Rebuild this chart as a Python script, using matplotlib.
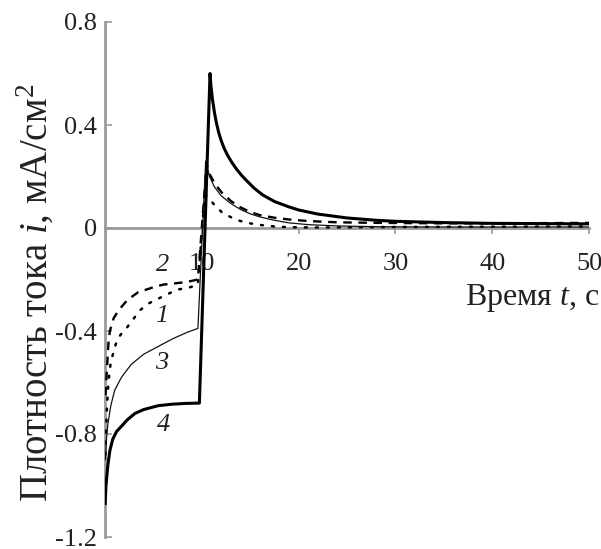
import matplotlib
matplotlib.use("Agg")
import matplotlib.pyplot as plt

plt.rcParams['font.family'] = ['Liberation Serif', 'DejaVu Serif']
plt.rcParams['mathtext.fontset'] = 'custom'
plt.rcParams['mathtext.rm'] = 'Liberation Serif'
plt.rcParams['mathtext.it'] = 'Liberation Serif:italic'

# кривая 1 (точки)
t1 = [0.05, 0.1, 0.2, 0.35, 0.6, 1.2, 1.6, 2.3, 2.9, 3.6, 4.4, 5.2, 6.3, 7.4, 8.8, 9.6,
      10.3, 10.6, 11.3, 12.1, 13.1, 14.0, 15.0, 16.0, 17.5, 19.0, 22.0, 30.0, 40.0, 50.0]
i1 = [-0.88, -0.8, -0.7, -0.6, -0.52, -0.44, -0.415, -0.385, -0.355, -0.32, -0.295, -0.28, -0.26, -0.24, -0.23, -0.22,
      0.13, 0.12, 0.09, 0.06, 0.04, 0.027, 0.018, 0.012, 0.006, 0.003, 0.002, 0.004, 0.005, 0.006]

# кривая 2 (штрих)
t2 = [0.05, 0.2, 0.35, 0.5, 0.9, 1.4, 2.3, 3.4, 5.0, 6.0, 8.4, 9.6,
      10.5, 10.8, 11.3, 12.0, 13.0, 14.0, 15.0, 16.0, 17.5, 19.0, 21.0, 24.0, 28.0, 35.0, 42.0, 50.0]
i2 = [-0.65, -0.55, -0.45, -0.4, -0.35, -0.32, -0.28, -0.25, -0.23, -0.22, -0.21, -0.2,
      0.25, 0.21, 0.175, 0.14, 0.105, 0.08, 0.062, 0.05, 0.04, 0.033, 0.027, 0.022, 0.02, 0.018, 0.018, 0.02]

# кривая 3 (тонкая)
t3 = [0.05, 0.15, 0.3, 0.6, 1.0, 1.7, 2.7, 4.0, 5.5, 7.0, 8.5, 9.6,
      10.4, 10.8, 11.3, 12.0, 13.0, 14.0, 15.0, 16.0, 17.5, 19.0, 21.0, 24.0, 28.0, 35.0, 50.0]
i3 = [-0.9, -0.82, -0.76, -0.69, -0.63, -0.58, -0.53, -0.49, -0.46, -0.43, -0.405, -0.39,
      0.26, 0.2, 0.16, 0.125, 0.095, 0.072, 0.055, 0.043, 0.03, 0.02, 0.013, 0.008, 0.005, 0.004, 0.004]

# кривая 4 (жирная)
t4 = [0.02, 0.1, 0.3, 0.5, 0.8, 1.2, 1.7, 2.3, 3.1, 4.0, 5.5, 7.0, 8.5, 9.75,
      10.85, 10.95, 11.1, 11.3, 11.5, 11.75, 12.0, 12.3, 12.7, 13.1, 13.6, 14.1, 14.6, 15.4, 16.3, 17.5, 19.0,
      20.0, 22.0, 25.0, 28.0, 30.0, 35.0, 40.0, 45.0, 50.0]
i4 = [-1.07, -1.0, -0.92, -0.865, -0.82, -0.79, -0.77, -0.745, -0.72, -0.705, -0.69, -0.684, -0.681, -0.68,
      0.6, 0.55, 0.5, 0.45, 0.41, 0.37, 0.34, 0.31, 0.28, 0.255, 0.228, 0.205, 0.185, 0.155, 0.128, 0.103, 0.082,
      0.07, 0.054, 0.039, 0.03, 0.026, 0.021, 0.018, 0.017, 0.016]

labels = ['1', '2', '3', '4']
label_t = [5.9, 6.0, 5.9, 6.0]
label_i = [-0.34, -0.145, -0.525, -0.765]

x_ticks = [10, 20, 30, 40, 50]
y_ticks = [-1.2, -0.8, -0.4, 0, 0.4, 0.8]
y_tick_labels = ['-1.2', '-0.8', '-0.4', '0', '0.4', '0.8']

gray = '#9a9a9a'
txt = '#222222'

fig = plt.figure(figsize=(6.01, 5.49), dpi=100)
ax = fig.add_axes([105 / 601, 1 - 537 / 549, (589 - 105) / 601, (537 - 22) / 549])

ax.plot(t1, i1, color='black', lw=1.8, linestyle=(0, (0.8, 3.6)), dash_capstyle='round', zorder=4)
ax.plot(t2, i2, color='black', lw=1.7, linestyle=(0, (3.6, 2.8)), zorder=4)
ax.plot(t3, i3, color='#111111', lw=0.9, zorder=4)
ax.plot(t4, i4, color='black', lw=2.2, zorder=5)

for lab, x, y in zip(labels, label_t, label_i):
    ax.text(x, y, lab, fontsize=19, style='italic', color=txt, ha='center', va='center')

ax.set_xlim(0, 50)
ax.set_ylim(-1.2, 0.8)

ax.spines['top'].set_visible(False)
ax.spines['right'].set_visible(False)
ax.spines['bottom'].set_position(('data', 0))
for s in ['left', 'bottom']:
    ax.spines[s].set_color(gray)
    ax.spines[s].set_linewidth(2.0)

ax.set_xticks(x_ticks)
ax.set_yticks(y_ticks)
ax.set_yticklabels(y_tick_labels)
ax.tick_params(axis='x', direction='out', length=4, width=1.2, color=gray,
               labelsize=19, labelcolor=txt, pad=14)
ax.tick_params(axis='y', direction='in', length=5, width=1.2, color=gray,
               labelsize=19, labelcolor=txt, pad=6)

fig.text(465 / 601, 1 - 298 / 549, 'Время $t$, с', fontsize=23, color=txt, ha='left', va='center')
# подпись оси Y шире, поэтому крупнее кегль
fig.text(36 / 601, 1 - 293 / 549, 'Плотность тока $i$, мА/см$^2$', fontsize=28, color=txt,
         rotation=90, ha='center', va='center')

fig.savefig('out.png', dpi=100)
